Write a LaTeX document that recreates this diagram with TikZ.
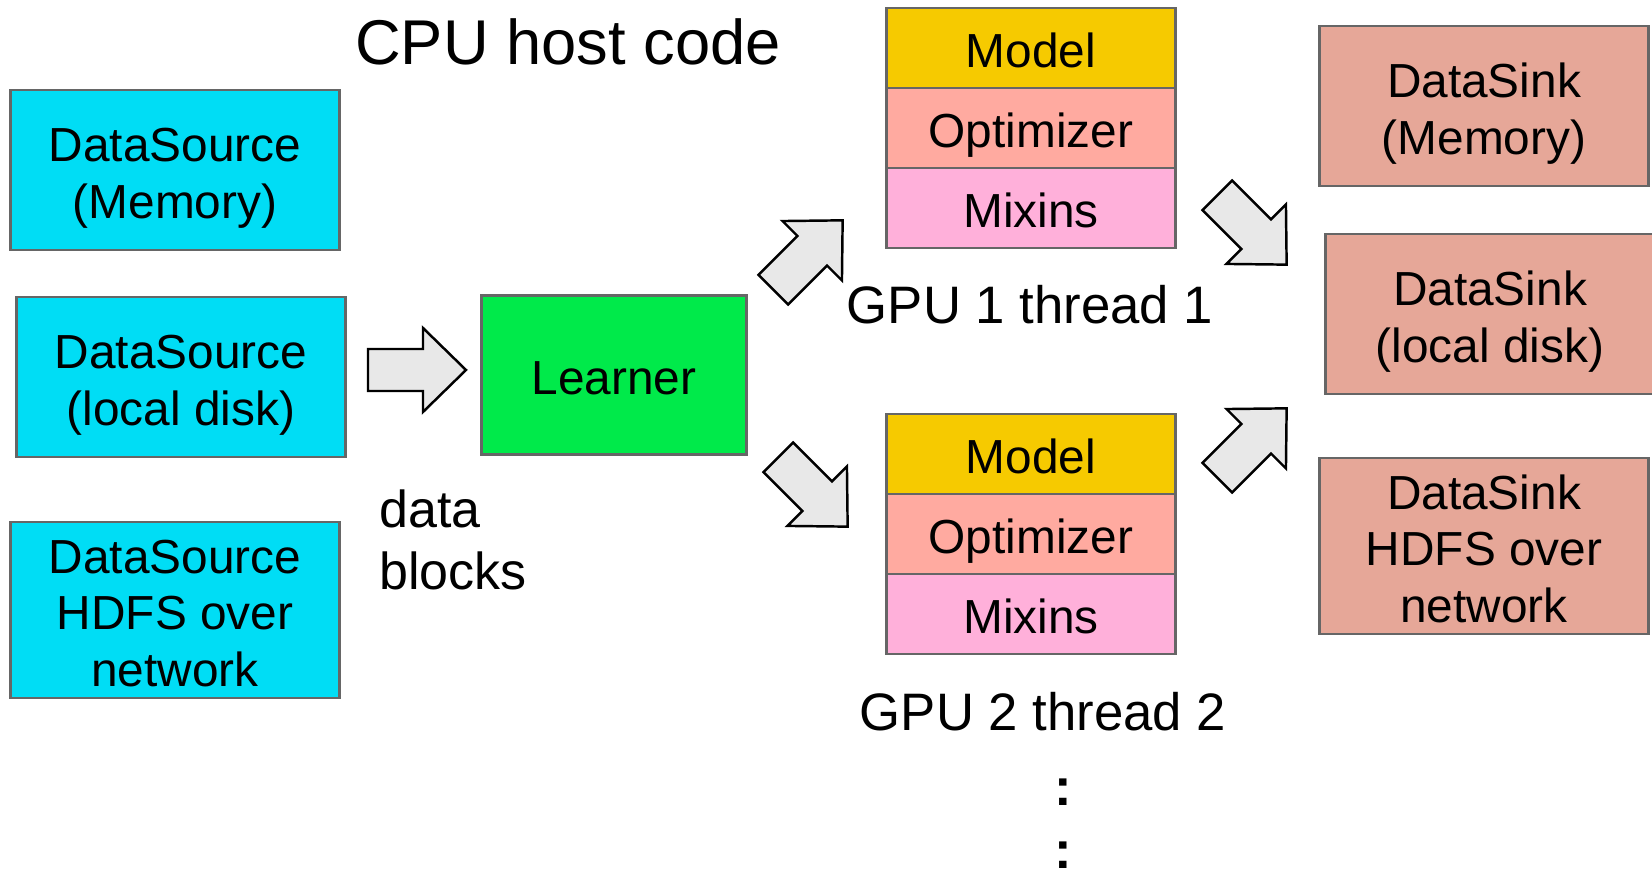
\documentclass[tikz,border=0pt]{standalone}
\usepackage{fontspec}
\setmainfont{Liberation Sans}
\usetikzlibrary{positioning}

\definecolor{srccyan}{HTML}{00DDF5}
\definecolor{learngreen}{HTML}{00EA4A}
\definecolor{modelgold}{HTML}{F6CA00}
\definecolor{optsalmon}{HTML}{FFAAA0}
\definecolor{mixpink}{HTML}{FFB0DA}
\definecolor{sinkrose}{HTML}{E6A798}
\definecolor{arrowgray}{HTML}{E8E8E8}

% same line box for every box text
\newcommand\boxstrut{\rule{0pt}{5.2mm}}

\begin{document}
\begin{tikzpicture}[x=0.1mm, y=-0.1mm,
	box/.style = {draw=black!60, line width=0.6pt, align=center, inner sep=0pt, outer sep=0pt, font=\fontsize{13.6}{16}\selectfont,
		execute at end node={\rule[-1.2mm]{0pt}{0pt}}},
	src/.style = {box, fill=srccyan, minimum width=32.9mm, minimum height=16mm},
	sink/.style = {box, fill=sinkrose, minimum width=32.9mm, minimum height=16mm},
	part/.style = {box, minimum width=28.9mm, minimum height=8mm},
	gpulabel/.style = {font=\fontsize{15}{18}\selectfont},
	dot/.style = {font=\fontsize{15}{18}\selectfont\bfseries, inner sep=0pt},
	fat/.pic = {\draw[fill=arrowgray, line width=0.7pt, line join=miter] (-49,-21) -- (6,-21) -- (6,-42) -- (49,0) -- (6,42) -- (6,21) -- (-49,21) -- cycle;}]
	\useasboundingbox (0,0) rectangle (1652,872);
	% sources
	\node[src] (srcmem) at (175,170) {\boxstrut DataSource\\(Memory)};
	\node[src] (srcdisk) at (181,377) {\boxstrut DataSource\\(local disk)};
	\node[src, minimum height=17.5mm] (srchdfs) at (175,610) {\boxstrut DataSource\\HDFS over\\network};
	\node[font=\fontsize{14.8}{17.6}\selectfont, align=left] (blocks) at (453,540) {data\\blocks};
	\node[box, fill=learngreen, minimum width=26.5mm, minimum height=15.9mm] (learner) at (614,375) {\boxstrut Learner};
	\node[font=\fontsize{18}{21}\selectfont] (cpu) at (568,42) {CPU host code};
	% gpu 1
	\node[part, fill=modelgold] (model1) at (1031,48) {\boxstrut Model};
	\node[part, fill=optsalmon, below=0pt of model1] (opt1) {\boxstrut Optimizer};
	\node[part, fill=mixpink, below=0pt of opt1] (mix1) {\boxstrut Mixins};
	\node[gpulabel] (gpu1) at (1030,305) {GPU 1 thread 1};
	% gpu 2
	\node[part, fill=modelgold] (model2) at (1031,454) {\boxstrut Model};
	\node[part, fill=optsalmon, below=0pt of model2] (opt2) {\boxstrut Optimizer};
	\node[part, fill=mixpink, below=0pt of opt2] (mix2) {\boxstrut Mixins};
	\node[gpulabel] (gpu2) at (1043,712) {GPU 2 thread 2};
	\node[dot] (dotsa) at (1063,792) {:};
	\node[dot] (dotsb) at (1063,855) {:};
	% sinks
	\node[sink] (sinkmem) at (1484,106) {\boxstrut DataSink\\(Memory)};
	\node[sink] (sinkdisk) at (1490,314) {\boxstrut DataSink\\(local disk)};
	\node[sink, minimum height=17.6mm] (sinkhdfs) at (1484,546) {\boxstrut DataSink\\HDFS over\\network};
	% fat arrows
	\pic at (417,370) {fat};
	\pic[rotate=45] at (808,255) {fat};
	\pic[rotate=-45] at (813,492) {fat};
	\pic[rotate=-45] at (1252,230) {fat};
	\pic[rotate=45] at (1252,443) {fat};
\end{tikzpicture}
\end{document}
